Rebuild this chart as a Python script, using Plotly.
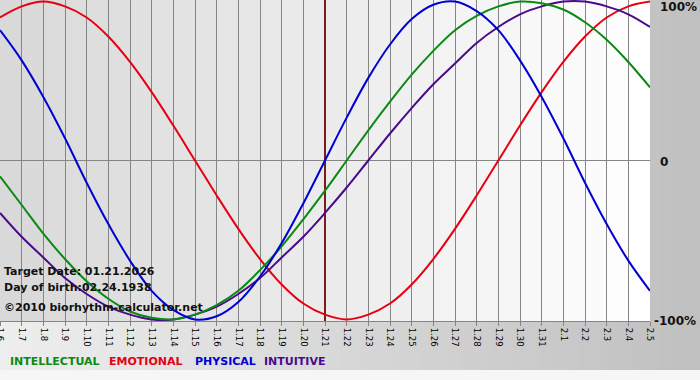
import plotly.graph_objects as go

# ---- data ----
dates = ["1.6", "1.7", "1.8", "1.9", "1.10", "1.11", "1.12", "1.13", "1.14", "1.15",
         "1.16", "1.17", "1.18", "1.19", "1.20", "1.21", "1.22", "1.23", "1.24", "1.25",
         "1.26", "1.27", "1.28", "1.29", "1.30", "1.31", "2.1", "2.2", "2.3", "2.4", "2.5"]

physical = [0.82, 0.63, 0.40, 0.14, -0.14, -0.40, -0.63, -0.82, -0.94, -1.00, -0.98, -0.89,
            -0.73, -0.52, -0.27, 0.00, 0.27, 0.52, 0.73, 0.89, 0.98, 1.00, 0.94, 0.82,
            0.63, 0.40, 0.14, -0.14, -0.40, -0.63, -0.82]

emotional = [0.90, 0.97, 1.00, 0.97, 0.90, 0.78, 0.62, 0.43, 0.22, 0.00, -0.22, -0.43,
             -0.62, -0.78, -0.90, -0.97, -1.00, -0.97, -0.90, -0.78, -0.62, -0.43, -0.22,
             0.00, 0.22, 0.43, 0.62, 0.78, 0.90, 0.97, 1.00]

intellectual = [-0.10, -0.28, -0.46, -0.62, -0.76, -0.87, -0.95, -0.99, -1.00, -0.97, -0.91,
                -0.82, -0.69, -0.54, -0.37, -0.19, 0.00, 0.19, 0.37, 0.54, 0.69, 0.82,
                0.91, 0.97, 1.00, 0.99, 0.95, 0.87, 0.76, 0.62, 0.46]

intuitive = [-0.33, -0.48, -0.61, -0.74, -0.84, -0.92, -0.97, -1.00, -1.00, -0.97, -0.92,
             -0.84, -0.74, -0.61, -0.48, -0.33, -0.17, 0.00, 0.17, 0.33, 0.48, 0.61,
             0.74, 0.84, 0.92, 0.97, 1.00, 1.00, 0.97, 0.92, 0.84]

target_index = 15  # 1.21
info_lines = ["Target Date: 01.21.2026", "Day of birth:02.24.1938", "\u00a92010 biorhythm-calculator.net"]
legend_names = ["INTELLECTUAL", "EMOTIONAL", "PHYSICAL", "INTUITIVE"]
y_labels = ["100%", "0", "-100%"]

# ---- styles ----
W, H = 700, 380
L, R, T, B = 0, 50, 0, 59
PW, PH = W - L - R, H - T - B
C_GREEN = "#0a8a14"
C_RED = "#e60012"
C_BLUE = "#0000d2"
C_PURPLE = "#4a0a8c"
FONT = "DejaVu Sans"

x = list(range(len(dates)))
fig = go.Figure()

shapes = []
# paper background horizontal gradient (stepped)
nstrip = 70
for k in range(nstrip):
    g = int(round(238 - (238 - 192) * k / (nstrip - 1)))
    shapes.append(dict(type="rect", xref="paper", yref="paper",
                       x0=(k * 10 - L) / PW, x1=((k + 1) * 10 - L) / PW,
                       y0=-(H - PH - 10) / PH, y1=1.0 + 0.01,
                       fillcolor=f"rgb({g},{g},{g})", line_width=0, layer="below"))
shapes.append(dict(type="rect", xref="paper", yref="paper",
                   x0=0, x1=W / PW, y0=-(H - PH) / PH, y1=-(H - PH - 10) / PH,
                   fillcolor="#f6f6f6", line_width=0, layer="below"))
# plot column shading
ncol = len(dates) - 1
for j in range(ncol):
    g = int(round(217 + (254 - 217) * j / (ncol - 1)))
    shapes.append(dict(type="rect", xref="x", yref="y", x0=j, x1=j + 1, y0=-1.01, y1=1.01,
                       fillcolor=f"rgb({g},{g},{g})", line_width=0, layer="below"))
# zero line
shapes.append(dict(type="line", xref="x", yref="y", x0=0, x1=30, y0=0, y1=0,
                   line=dict(color="#858585", width=1), layer="between"))

# target date line
fig.add_trace(go.Scatter(x=[target_index, target_index], y=[-1.01, 1.01], mode="lines",
                         line=dict(color="#7a1c1c", width=2), hoverinfo="skip", showlegend=False))

for vals, col, name in [(emotional, C_RED, "EMOTIONAL"), (intuitive, C_PURPLE, "INTUITIVE"),
                        (intellectual, C_GREEN, "INTELLECTUAL"), (physical, C_BLUE, "PHYSICAL")]:
    fig.add_trace(go.Scatter(x=x, y=vals, mode="lines", name=name,
                             line=dict(color=col, width=2, shape="spline", smoothing=1.0),
                             showlegend=False))

ann = []
def py(p):
    return 1 - p / PH

for i, (txt, yp) in enumerate(zip(info_lines, [271, 287, 307])):
    ann.append(dict(text=txt, xref="paper", yref="paper", x=2 / PW, y=py(yp),
                    xanchor="left", yanchor="middle", showarrow=False,
                    font=dict(family=FONT, size=11, color="#111111", weight="bold")))

for txt, xp, col in zip(legend_names, [8, 107, 193, 262], [C_GREEN, C_RED, C_BLUE, C_PURPLE]):
    ann.append(dict(text=txt, xref="paper", yref="paper", x=xp / PW, y=py(361),
                    xanchor="left", yanchor="middle", showarrow=False,
                    font=dict(family=FONT, size=11, color=col, weight="bold")))

for txt, xp, yp in zip(y_labels, [658, 658, 652], [7, 162, 321]):
    ann.append(dict(text=txt, xref="paper", yref="paper", x=xp / PW, y=py(yp),
                    xanchor="left", yanchor="middle", showarrow=False,
                    font=dict(family=FONT, size=12, color="#111111", weight="bold")))

fig.update_layout(
    width=W, height=H, margin=dict(l=L, r=R, t=T, b=B, pad=0),
    paper_bgcolor="rgba(0,0,0,0)", plot_bgcolor="rgba(0,0,0,0)",
    shapes=shapes, annotations=ann, showlegend=False,
    xaxis=dict(range=[0, 30], tickvals=x, ticktext=dates, tickangle=90,
               showgrid=True, gridcolor="#858585", gridwidth=1,
               ticks="outside", ticklen=4, tickcolor="#858585",
               showline=True, linecolor="#858585", linewidth=1,
               ticklabeloverflow="allow", automargin=False,
               tickfont=dict(family=FONT, size=8.5, color="#000000"), zeroline=False,
               fixedrange=True),
    yaxis=dict(range=[-1.01, 1.01], showgrid=False, showticklabels=False, zeroline=False,
               showline=False, fixedrange=True),
)

fig.write_html("out.html", config={"displayModeBar": False},
               post_script="document.body.style.margin='0';document.body.style.overflow='hidden';")
